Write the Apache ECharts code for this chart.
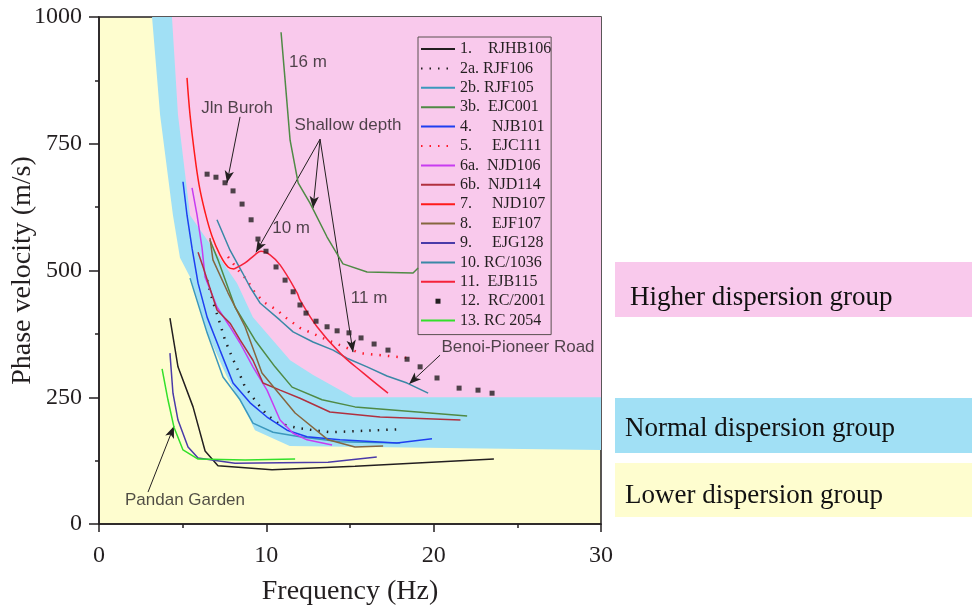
<!DOCTYPE html>
<html>
<head>
<meta charset="utf-8">
<script src="https://cdn.jsdelivr.net/npm/echarts@6/dist/echarts.min.js"></script>
<style>
html, body { margin: 0; padding: 0; background: #fff; }
#chart { width: 972px; height: 612px; }
</style>
</head>
<body>
<div id="chart"></div>
<script>
// all points are [frequency (Hz), phase velocity (m/s)]
var normalEdge = [[3.17, 1000], [3.65, 807], [4.42, 609], [4.84, 525], [5.44, 487], [6.46, 377], [7.65, 290], [9.03, 205], [9.32, 185], [11.4, 154], [30, 146]];
var higherEdge = [[4.36, 1000], [4.72, 807], [5.44, 609], [7.1, 530], [8.25, 475], [9.2, 408], [10.22, 369], [11.42, 323], [12.8, 294], [15.18, 250], [30, 250]];

var rjhb106 = [[4.24, 406], [4.72, 310], [5.62, 231], [6.34, 144], [7.11, 115], [10.34, 107], [15.3, 114], [23.6, 128]];
var rjf106 = [[6.46, 481], [6.81, 438], [7.17, 402], [7.53, 363], [7.95, 329], [8.25, 308], [8.73, 270], [9.44, 239], [10.04, 215], [10.7, 199], [11.9, 189], [13.8, 181], [18.05, 187]];
var rjf105 = [[5.44, 485], [6.46, 377], [7.41, 290], [8.43, 245], [9.2, 199], [10.4, 181], [12.0, 172], [14.4, 162], [18.0, 160]];
var ejc001 = [[6.63, 560], [7.11, 521], [8.13, 428], [9.32, 363], [10.52, 310], [11.54, 270], [13.33, 245], [15.3, 231], [22.0, 213]];
var ejc001Deep = [[10.88, 970], [11.12, 876], [11.42, 757], [11.9, 673], [12.61, 633], [13.63, 566], [14.58, 513], [16.02, 497], [18.77, 495], [19.07, 505]];
var njb101 = [[5.02, 675], [5.26, 609], [5.56, 544], [5.92, 475], [6.46, 408], [7.23, 343], [8.01, 278], [9.03, 239], [10.04, 211], [11.24, 185], [12.43, 172], [14.4, 166], [17.8, 160], [19.9, 168]];
var ejc111 = [[7.71, 527], [8.31, 501], [8.85, 481], [9.32, 456], [9.92, 436], [10.64, 422], [11.12, 408], [12.01, 387], [13.63, 363], [15.6, 337], [18.6, 327]];
var njd106 = [[5.56, 663], [5.86, 609], [6.16, 544], [6.34, 487], [7.05, 428], [7.83, 389], [8.43, 357], [9.2, 310], [10.04, 264], [10.82, 205], [11.6, 179], [12.43, 166], [13.93, 156]];
var njd114 = [[5.92, 536], [6.22, 507], [7.05, 422], [7.83, 396], [8.43, 363], [9.2, 323], [9.8, 278], [10.82, 264], [12.01, 248], [13.8, 221], [16.8, 211], [21.6, 205]];
var njd107 = [[5.26, 880], [5.44, 807], [5.68, 738], [5.98, 669], [6.34, 615], [6.75, 568], [7.23, 531], [7.71, 507], [8.07, 503]];
var ejf107 = [[6.63, 564], [6.81, 521], [7.71, 456], [8.73, 389], [9.74, 298], [11.72, 219], [13.69, 166], [15.3, 152], [16.98, 154]];
var ejg128 = [[4.24, 337], [4.42, 258], [4.72, 205], [5.32, 152], [5.92, 130], [8.13, 120], [13.69, 122], [16.6, 132]];
var rc1036 = [[7.05, 600], [7.83, 540], [8.55, 497], [9.03, 467], [9.62, 436], [10.82, 402], [11.6, 379], [12.79, 359], [13.99, 343], [14.82, 327], [16.02, 310], [17.21, 292], [18.41, 278], [19.67, 258]];
var ejb115 = [[8.07, 503], [8.73, 515], [9.32, 531], [9.68, 538], [10.22, 531], [10.82, 511], [11.84, 456], [12.01, 442], [13.03, 389], [14.41, 337], [15.78, 298], [17.27, 258]];
var rc2001 = [[6.46, 690], [6.99, 684], [7.53, 673], [8.01, 657], [8.55, 631], [9.09, 600], [9.5, 562], [9.98, 538], [10.58, 507], [11.12, 481], [11.6, 458], [12.01, 432], [12.37, 416], [12.97, 400], [13.63, 389], [14.23, 381], [14.94, 377], [15.66, 367], [16.44, 355], [17.27, 343], [18.41, 325], [19.19, 310], [20.2, 288], [21.52, 268], [22.65, 264], [23.49, 258]];
var rc2054 = [[3.77, 306], [4.12, 245], [4.48, 191], [5.02, 146], [5.92, 128], [8.73, 126], [11.72, 128]];

var legendNames = ['1.    RJHB106', '2a. RJF106', '2b. RJF105', '3b.  EJC001', '4.     NJB101', '5.     EJC111', '6a.  NJD106', '6b.  NJD114', '7.     NJD107', '8.     EJF107', '9.     EJG128', '10. RC/1036', '11.  EJB115', '12.  RC/2001', '13. RC 2054'];

var notes = [[12.49, 911, '16 m'], [8.25, 820, 'Jln Buroh'], [14.88, 787, 'Shallow depth'], [11.48, 584, '10 m'], [16.14, 446, '11 m'], [25.04, 349, 'Benoi-Pioneer Road'], [5.14, 47, 'Pandan Garden']];
var arrows = [
  [[8.43, 803], [7.65, 673]],
  [[13.21, 759], [9.38, 536]],
  [[13.21, 759], [12.79, 623]],
  [[13.21, 759], [15.18, 339]],
  [[20.38, 333], [18.53, 276]],
  [[2.93, 63], [4.48, 193]]
];

var ink = '#231f20';
var chart = echarts.init(document.getElementById('chart'));

function band(edge, color, z) {
  return {
    type: 'custom',
    silent: true,
    z: z,
    data: [[0, 0]],
    renderItem: function (params, api) {
      var pts = edge.map(function (p) { return api.coord(p); });
      pts.push(api.coord([30, 1000]));
      return { type: 'polygon', shape: { points: pts }, style: { fill: color } };
    }
  };
}

function line(name, data, color, dotted, smooth) {
  return {
    name: name,
    type: 'line',
    data: data,
    symbol: 'none',
    smooth: smooth || false,
    z: 5,
    lineStyle: { color: color, width: dotted ? 2.5 : 1.5, type: dotted ? [1.5, 7] : 'solid' },
    itemStyle: { color: color }
  };
}

var series = [
  band(normalEdge, '#a1e0f5', 1),
  band(higherEdge, '#f9c9ec', 2),
  line(legendNames[0], rjhb106, ink),
  line(legendNames[1], rjf106, ink, true),
  line(legendNames[2], rjf105, '#3b98bd'),
  line(legendNames[3], ejc001, '#4f8a45'),
  line('3a', ejc001Deep, '#4f8a45'),
  line(legendNames[4], njb101, '#1f3ff0'),
  line(legendNames[5], ejc111, '#ff1a2a', true),
  line(legendNames[6], njd106, '#c83cf0'),
  line(legendNames[7], njd114, '#b0303f'),
  line(legendNames[8], njd107, '#ff1a1a', false, 0.4),
  line(legendNames[9], ejf107, '#85663f'),
  line(legendNames[10], ejg128, '#4a3aa8'),
  line(legendNames[11], rc1036, '#3a88a6'),
  line(legendNames[12], ejb115, '#f5223a', false, 0.4),
  {
    name: legendNames[13],
    type: 'scatter',
    data: rc2001,
    symbol: 'rect',
    symbolSize: 5,
    z: 6,
    itemStyle: { color: ink }
  },
  line(legendNames[14], rc2054, '#33e02a'),
  {
    type: 'scatter',
    silent: true,
    z: 8,
    symbolSize: 0,
    data: notes,
    label: {
      show: true,
      position: 'inside',
      formatter: function (p) { return p.value[2]; },
      fontFamily: 'Liberation Sans',
      fontSize: 17,
      color: ink
    },
    markLine: {
      silent: true,
      symbol: ['none', 'arrow'],
      symbolSize: [7, 12],
      label: { show: false },
      lineStyle: { color: ink, width: 1, type: 'solid' },
      data: arrows.map(function (a) { return [{ coord: a[0] }, { coord: a[1] }]; })
    }
  }
];

var groupBoxes = [
  { y: 262, h: 55, fill: '#f9c9ec', text: 'Higher dispersion group', x: 630, ty: 284 },
  { y: 398, h: 55, fill: '#a1e0f5', text: 'Normal dispersion group', x: 625, ty: 415 },
  { y: 463, h: 54, fill: '#fefdcf', text: 'Lower dispersion group', x: 625, ty: 482 }
];
var graphic = [];
groupBoxes.forEach(function (b) {
  graphic.push({ type: 'rect', left: 615, top: b.y, shape: { width: 357, height: b.h }, style: { fill: b.fill }, silent: true });
  graphic.push({ type: 'text', left: b.x, top: b.ty, style: { text: b.text, font: '27px "Liberation Serif"', fill: '#111' }, silent: true });
});

var legendData = legendNames.map(function (n, i) {
  if (i === 13) {
    return { name: n, icon: 'path://M0 0h1v1h-1z', itemStyle: { opacity: 1 } };
  }
  return { name: n };
});

var option = {
  animation: false,
  backgroundColor: '#fff',
  grid: { left: 99, right: 371, top: 17, bottom: 88, containLabel: false, outerBoundsMode: 'none', show: true, backgroundColor: '#fefdcf', borderColor: ink, borderWidth: 1.5 },
  legend: {
    data: legendData,
    orient: 'vertical',
    left: 418,
    top: 37,
    itemWidth: 34,
    itemHeight: 5,
    itemGap: 3.4,
    padding: [4, 0, 6, 2],
    borderColor: '#5a5050',
    borderWidth: 1,
    selectedMode: false,
    itemStyle: { opacity: 0 },
    textStyle: { fontFamily: 'Liberation Serif', fontSize: 16, color: ink, lineHeight: 16 }
  },
  xAxis: {
    type: 'value', min: 0, max: 30, interval: 10,
    name: 'Frequency (Hz)', nameLocation: 'middle', nameGap: 54, nameMoveOverlap: false,
    nameTextStyle: { fontFamily: 'Liberation Serif', fontSize: 28, color: ink },
    axisLine: { lineStyle: { color: ink, width: 1.5 } },
    axisTick: { length: 8, lineStyle: { color: ink, width: 1.5 } },
    minorTick: { show: true, splitNumber: 2, length: 4, lineStyle: { color: ink, width: 1.5 } },
    splitLine: { show: false },
    axisLabel: { margin: 20, fontFamily: 'Liberation Serif', fontSize: 24, color: ink }
  },
  yAxis: {
    type: 'value', min: 0, max: 1000, interval: 250,
    name: 'Phase velocity (m/s)', nameLocation: 'middle', nameGap: 62, nameMoveOverlap: false,
    nameTextStyle: { fontFamily: 'Liberation Serif', fontSize: 28, color: ink },
    axisLine: { lineStyle: { color: ink, width: 1.5 } },
    axisTick: { length: 10, lineStyle: { color: ink, width: 1.5 } },
    minorTick: { show: true, splitNumber: 2, length: 4, lineStyle: { color: ink, width: 1.5 } },
    splitLine: { show: false },
    axisLabel: { margin: 17, fontFamily: 'Liberation Serif', fontSize: 24, color: ink, formatter: function (v) { return String(v); } }
  },
  graphic: graphic,
  series: series
};
chart.setOption(option);
</script>
</body>
</html>
